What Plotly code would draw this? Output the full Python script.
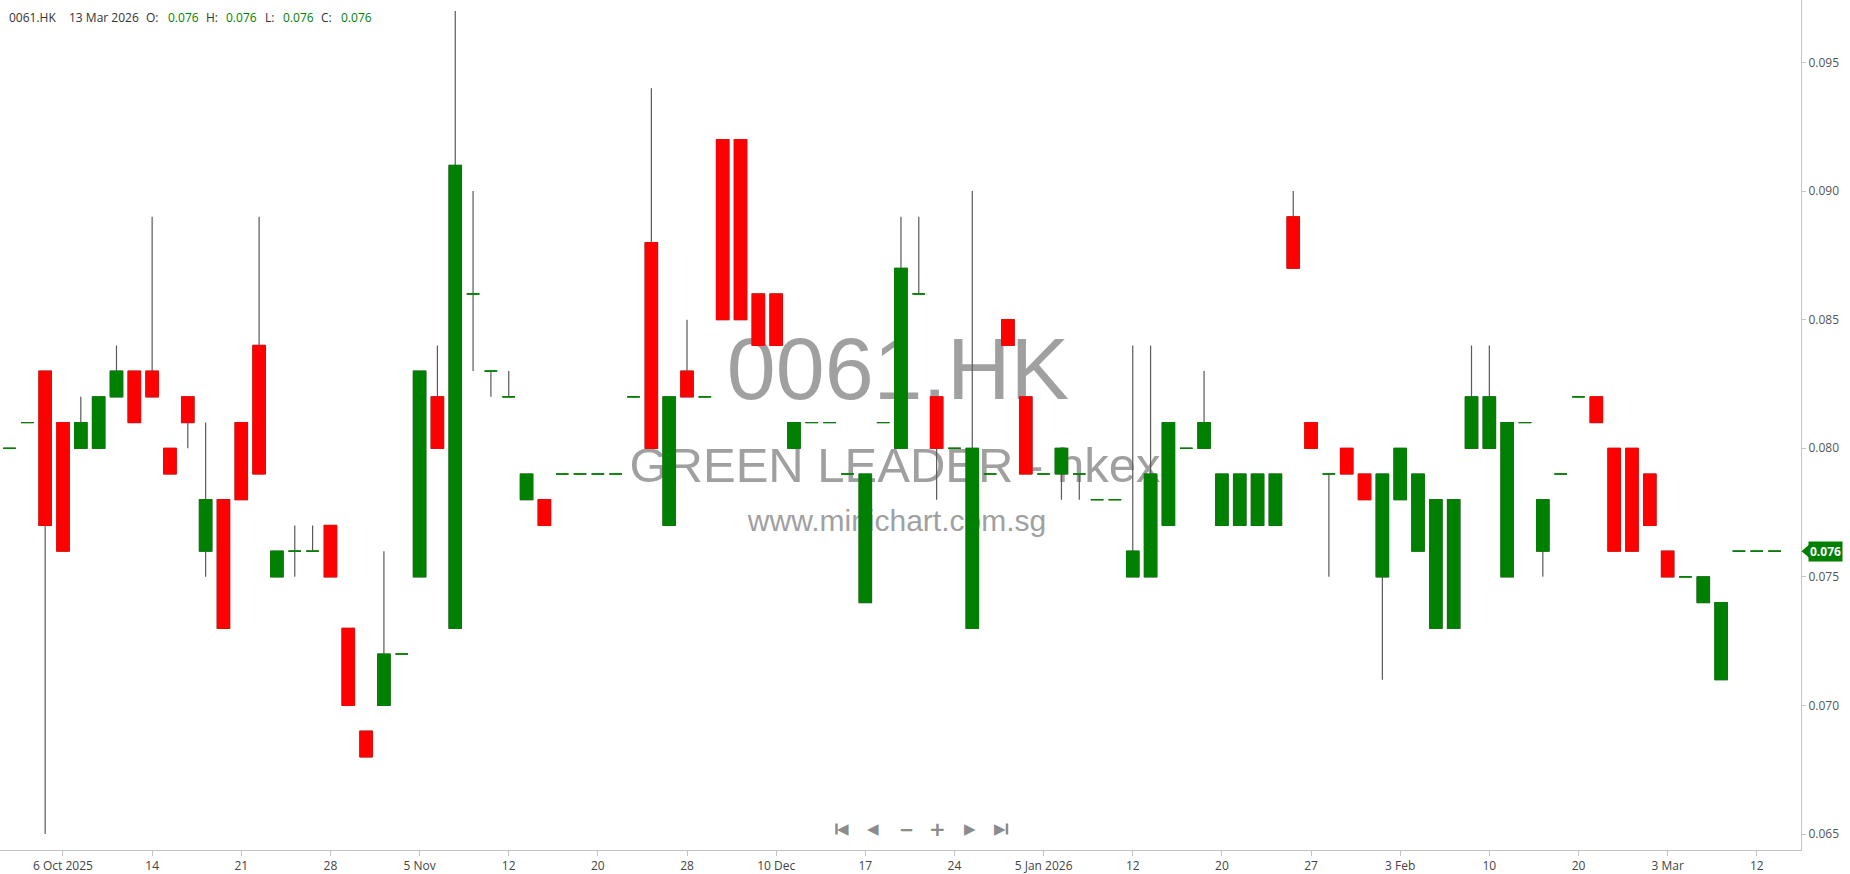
import plotly.graph_objects as go

# ---------------- data ----------------
dates = [
    "2025-09-30", "2025-10-02", "2025-10-03", "2025-10-06", "2025-10-08", "2025-10-09", "2025-10-10", "2025-10-13",
    "2025-10-14", "2025-10-15", "2025-10-16", "2025-10-17", "2025-10-20", "2025-10-21", "2025-10-22", "2025-10-23",
    "2025-10-24", "2025-10-27", "2025-10-28", "2025-10-30", "2025-10-31", "2025-11-03", "2025-11-04", "2025-11-05",
    "2025-11-06", "2025-11-07", "2025-11-10", "2025-11-11", "2025-11-12", "2025-11-13", "2025-11-14", "2025-11-17",
    "2025-11-18", "2025-11-20", "2025-11-21", "2025-11-24", "2025-11-25", "2025-11-26", "2025-11-28", "2025-12-02",
    "2025-12-04", "2025-12-05", "2025-12-08", "2025-12-10", "2025-12-11", "2025-12-12", "2025-12-15", "2025-12-16",
    "2025-12-17", "2025-12-18", "2025-12-19", "2025-12-22", "2025-12-23", "2025-12-24", "2025-12-29", "2025-12-30",
    "2025-12-31", "2026-01-02", "2026-01-05", "2026-01-06", "2026-01-07", "2026-01-08", "2026-01-09", "2026-01-12",
    "2026-01-13", "2026-01-14", "2026-01-15", "2026-01-16", "2026-01-20", "2026-01-21", "2026-01-22", "2026-01-23",
    "2026-01-26", "2026-01-27", "2026-01-28", "2026-01-29", "2026-01-30", "2026-02-02", "2026-02-03", "2026-02-04",
    "2026-02-05", "2026-02-06", "2026-02-09", "2026-02-10", "2026-02-11", "2026-02-12", "2026-02-13", "2026-02-16",
    "2026-02-20", "2026-02-23", "2026-02-24", "2026-02-25", "2026-02-26", "2026-03-03", "2026-03-04", "2026-03-05",
    "2026-03-06", "2026-03-11", "2026-03-12", "2026-03-13",
]

opens = [
    0.080, 0.081, 0.083, 0.081, 0.080, 0.080, 0.082, 0.083, 0.083, 0.080,
    0.082, 0.076, 0.078, 0.081, 0.084, 0.075, 0.076, 0.076, 0.077, 0.073,
    0.069, 0.070, 0.072, 0.075, 0.082, 0.073, 0.086, 0.083, 0.082, 0.078,
    0.078, 0.079, 0.079, 0.079, 0.079, 0.082, 0.088, 0.077, 0.083, 0.082,
    0.092, 0.092, 0.086, 0.086, 0.080, 0.081, 0.081, 0.079, 0.074, 0.081,
    0.080, 0.086, 0.082, 0.080, 0.073, 0.079, 0.085, 0.082, 0.079, 0.079,
    0.079, 0.078, 0.078, 0.075, 0.075, 0.077, 0.080, 0.080, 0.077, 0.077,
    0.077, 0.077, 0.089, 0.081, 0.079, 0.080, 0.079, 0.075, 0.078, 0.076,
    0.073, 0.073, 0.080, 0.080, 0.075, 0.081, 0.076, 0.079, 0.082, 0.082,
    0.080, 0.080, 0.079, 0.076, 0.075, 0.074, 0.071, 0.076, 0.076, 0.076,
]
highs = [
    0.080, 0.081, 0.083, 0.081, 0.082, 0.082, 0.084, 0.083, 0.089, 0.080,
    0.082, 0.081, 0.078, 0.081, 0.089, 0.076, 0.077, 0.077, 0.077, 0.073,
    0.069, 0.076, 0.072, 0.083, 0.084, 0.097, 0.090, 0.083, 0.083, 0.079,
    0.078, 0.079, 0.079, 0.079, 0.079, 0.082, 0.094, 0.082, 0.085, 0.082,
    0.092, 0.092, 0.086, 0.086, 0.081, 0.081, 0.081, 0.079, 0.079, 0.081,
    0.089, 0.089, 0.082, 0.080, 0.090, 0.079, 0.085, 0.082, 0.079, 0.080,
    0.079, 0.078, 0.078, 0.084, 0.084, 0.081, 0.080, 0.083, 0.079, 0.079,
    0.079, 0.079, 0.090, 0.081, 0.079, 0.080, 0.079, 0.079, 0.080, 0.079,
    0.078, 0.078, 0.084, 0.084, 0.081, 0.081, 0.078, 0.079, 0.082, 0.082,
    0.080, 0.080, 0.079, 0.076, 0.075, 0.075, 0.074, 0.076, 0.076, 0.076,
]
lows = [
    0.080, 0.081, 0.065, 0.076, 0.080, 0.080, 0.082, 0.081, 0.082, 0.079,
    0.080, 0.075, 0.073, 0.078, 0.079, 0.075, 0.075, 0.076, 0.075, 0.070,
    0.068, 0.070, 0.072, 0.075, 0.080, 0.073, 0.083, 0.082, 0.082, 0.078,
    0.077, 0.079, 0.079, 0.079, 0.079, 0.082, 0.080, 0.077, 0.082, 0.082,
    0.085, 0.085, 0.084, 0.084, 0.080, 0.081, 0.081, 0.079, 0.074, 0.081,
    0.080, 0.086, 0.078, 0.080, 0.073, 0.079, 0.084, 0.079, 0.079, 0.078,
    0.078, 0.078, 0.078, 0.075, 0.075, 0.077, 0.080, 0.080, 0.077, 0.077,
    0.077, 0.077, 0.087, 0.080, 0.075, 0.079, 0.078, 0.071, 0.078, 0.076,
    0.073, 0.073, 0.080, 0.080, 0.075, 0.081, 0.075, 0.079, 0.082, 0.081,
    0.076, 0.076, 0.077, 0.075, 0.075, 0.074, 0.071, 0.076, 0.076, 0.076,
]
closes = [
    0.080, 0.081, 0.077, 0.076, 0.081, 0.082, 0.083, 0.081, 0.082, 0.079,
    0.081, 0.078, 0.073, 0.078, 0.079, 0.076, 0.076, 0.076, 0.075, 0.070,
    0.068, 0.072, 0.072, 0.083, 0.080, 0.091, 0.086, 0.083, 0.082, 0.079,
    0.077, 0.079, 0.079, 0.079, 0.079, 0.082, 0.080, 0.082, 0.082, 0.082,
    0.085, 0.085, 0.084, 0.084, 0.081, 0.081, 0.081, 0.079, 0.079, 0.081,
    0.087, 0.086, 0.080, 0.080, 0.080, 0.079, 0.084, 0.079, 0.079, 0.080,
    0.079, 0.078, 0.078, 0.076, 0.079, 0.081, 0.080, 0.081, 0.079, 0.079,
    0.079, 0.079, 0.087, 0.080, 0.079, 0.079, 0.078, 0.079, 0.080, 0.079,
    0.078, 0.078, 0.082, 0.082, 0.081, 0.081, 0.078, 0.079, 0.082, 0.081,
    0.076, 0.076, 0.077, 0.075, 0.075, 0.075, 0.074, 0.076, 0.076, 0.076,
]

tick_dates = [
    "2025-10-06", "2025-10-14", "2025-10-21", "2025-10-28", "2025-11-05", "2025-11-12", "2025-11-20",
    "2025-11-28", "2025-12-10", "2025-12-17", "2025-12-24", "2026-01-05", "2026-01-12", "2026-01-20",
    "2026-01-27", "2026-02-03", "2026-02-10", "2026-02-20", "2026-03-03", "2026-03-12",
]
tick_labels = [
    "6 Oct 2025", "14", "21", "28", "5 Nov", "12", "20", "28", "10 Dec", "17", "24", "5 Jan 2026",
    "12", "20", "27", "3 Feb", "10", "20", "3 Mar", "12",
]
y_ticks = [0.065, 0.070, 0.075, 0.080, 0.085, 0.090, 0.095]

symbol = "0061.HK"
company = "GREEN LEADER - hkex"
site = "www.minichart.com.sg"
last_date_label = "13 Mar 2026"

# ---------------- styling ----------------
UP = "#008000"
DOWN = "#ff0000"
WICK = "#5a5a5a"
AX = "#c4c4c4"
NAV = "#8c8c8c"
FONT = "Open Sans"

is_up = [c >= o for o, c in zip(opens, closes)]
is_dn = [not u for u in is_up]

def pick(vals, flags):
    return [v if f else None for v, f in zip(vals, flags)]

body_hi = [max(o, c) for o, c in zip(opens, closes)]
body_lo = [min(o, c) for o, c in zip(opens, closes)]

fig = go.Figure()

# wicks
fig.add_trace(go.Candlestick(
    x=dates, open=opens, high=highs, low=lows, close=closes,
    increasing=dict(line=dict(color=WICK, width=1.2), fillcolor=WICK),
    decreasing=dict(line=dict(color=WICK, width=1.2), fillcolor=WICK),
    whiskerwidth=0, showlegend=False, hoverinfo="skip",
))
# up bodies (incl. dojis)
fig.add_trace(go.Candlestick(
    x=dates, open=pick(opens, is_up), high=pick(body_hi, is_up),
    low=pick(body_lo, is_up), close=pick(closes, is_up),
    increasing=dict(line=dict(color=UP, width=1), fillcolor=UP),
    decreasing=dict(line=dict(color=UP, width=1), fillcolor=UP),
    whiskerwidth=0, showlegend=False,
))
# down bodies
fig.add_trace(go.Candlestick(
    x=dates, open=pick(opens, is_dn), high=pick(body_hi, is_dn),
    low=pick(body_lo, is_dn), close=pick(closes, is_dn),
    increasing=dict(line=dict(color=DOWN, width=1), fillcolor=DOWN),
    decreasing=dict(line=dict(color=DOWN, width=1), fillcolor=DOWN),
    whiskerwidth=0, showlegend=False,
))

W, H = 1850, 874
ML, MR, MT, MB = 0, 49, 0, 24
PW = W - ML - MR
PH = H - MT - MB

def px_x(px):
    return (px - ML) / PW

def px_y(py):
    return 1 - (py - MT) / PH

# watermark (drawn below the candles)
wm = [
    (symbol, 88, 898, 360),
    (company, 49, 895, 460),
    (site, 30, 897, 517),
]
for text, size, cx, cy in wm:
    fig.add_shape(
        type="rect", xref="paper", yref="paper",
        x0=px_x(cx - 400), x1=px_x(cx + 400), y0=px_y(cy + 40), y1=px_y(cy - 40),
        line=dict(width=0), fillcolor="rgba(0,0,0,0)", layer="below",
        label=dict(text=text, textposition="middle center",
                   font=dict(size=size, color="#a0a0a0", family="Liberation Sans, Arial")),
    )

# header
hdr = [
    (symbol, 7, "#333333"), (last_date_label, 67, "#333333"),
    ("O:", 144, "#333333"), (f"{opens[-1]:.3f}", 166, UP),
    ("H:", 204, "#333333"), (f"{highs[-1]:.3f}", 224, UP),
    ("L:", 263, "#333333"), (f"{lows[-1]:.3f}", 281, UP),
    ("C:", 319, "#333333"), (f"{closes[-1]:.3f}", 339, UP),
]
for text, x, col in hdr:
    fig.add_annotation(text=text, xref="paper", yref="paper", x=px_x(x), y=px_y(17.5),
                       xanchor="left", yanchor="middle", showarrow=False,
                       font=dict(size=12, color=col, family=FONT))

# last price tag
fig.add_annotation(text=f"<b>{closes[-1]:.3f}</b>", xref="paper", yref="y",
                   x=px_x(1808), y=closes[-1], xanchor="left", yanchor="middle",
                   showarrow=False, bgcolor=UP, borderpad=1,
                   font=dict(size=12, color="white", family=FONT))
fig.add_shape(type="path", xref="paper", yref="y",
              path=(f"M {px_x(1801.5)} {closes[-1]} L {px_x(1809)} {closes[-1] + 0.00025} "
                    f"L {px_x(1809)} {closes[-1] - 0.00025} Z"),
              fillcolor=UP, line=dict(width=0), layer="above")

# navigation buttons
nav = [("◀", 843, 15), ("◀", 873, 15), ("−", 906, 18), ("+", 937, 20), ("▶", 970, 15), ("▶", 1000, 15)]
for text, x, size in nav:
    fig.add_annotation(text=f"<b>{text}</b>", xref="paper", yref="paper", x=px_x(x), y=px_y(829),
                       xanchor="center", yanchor="middle", showarrow=False,
                       font=dict(size=size, color=NAV, family="DejaVu Sans"))
for bx in (836.5, 1007):
    fig.add_shape(type="line", xref="paper", yref="paper",
                  x0=px_x(bx), x1=px_x(bx), y0=px_y(823.5), y1=px_y(834.5),
                  line=dict(color=NAV, width=2.5), layer="above")

fig.update_layout(
    width=W, height=H,
    margin=dict(l=ML, r=MR, t=MT, b=MB, pad=0),
    paper_bgcolor="white", plot_bgcolor="white",
    boxgap=0.3, boxgroupgap=0, boxmode="overlay",
    showlegend=False,
    xaxis=dict(
        type="category", range=[-0.533, 100.48],
        tickmode="array", tickvals=tick_dates, ticktext=tick_labels,
        showline=True, linecolor=AX, linewidth=1, mirror=False,
        ticks="outside", ticklen=5, tickcolor=AX, showgrid=False, zeroline=False,
        tickfont=dict(size=12, color="#444444", family=FONT),
        rangeslider=dict(visible=False), fixedrange=True,
    ),
    yaxis=dict(
        side="right", range=[0.06438, 0.09743],
        tickmode="array", tickvals=y_ticks, tickformat=".3f",
        showline=True, linecolor=AX, linewidth=1,
        ticks="outside", ticklen=4, tickcolor=AX, showgrid=False, zeroline=False,
        tickfont=dict(size=12, color="#555555", family=FONT), fixedrange=True,
    ),
)

fig.write_html(
    "out.html",
    config={"displayModeBar": False},
    post_script="document.body.style.margin='0';document.body.style.overflow='hidden';",
)
